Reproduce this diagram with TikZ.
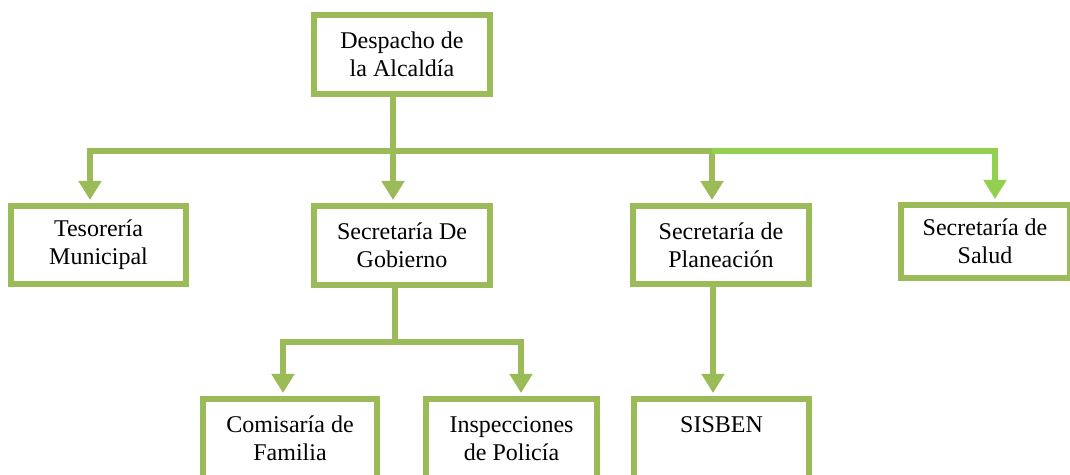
\documentclass[tikz,border=0pt]{standalone}
\usepackage{fontspec}
\setmainfont{Liberation Serif}
\usetikzlibrary{arrows.meta}
\definecolor{olivo}{HTML}{9BBB59}
\definecolor{verdeclaro}{HTML}{92D050}
\tikzset{
  caja/.style={draw=olivo,line width=3pt,fill=white,align=center,inner sep=0pt,
    font=\fontsize{12}{13.8}\selectfont},
  enlace/.style={draw=olivo,line width=2.75pt,shorten >=1.5pt},
  >={Triangle[width=11pt,length=9.5pt]}
}
\begin{document}
\begin{tikzpicture}[x=0.5pt,y=-0.5pt]
		\useasboundingbox (0,0) rectangle (1070,475);
		\node[caja,minimum width=88pt,minimum height=39.5pt](alc) at (402,54.5){Despacho de\\la Alcaldía};
		\node[caja,minimum width=87.5pt,minimum height=39pt](tes) at (98.5,245){Tesorería\\Municipal};
		\node[caja,minimum width=88pt,minimum height=39.5pt](gob) at (402,245.5){Secretaría De\\Gobierno};
		\node[caja,minimum width=88pt,minimum height=39pt](pla) at (721,245){Secretaría de\\Planeación};
		\node[caja,minimum width=84.5pt,minimum height=36.5pt](sal) at (985,241.5){Secretaría de\\Salud};
		\node[caja,minimum width=87pt,minimum height=39.5pt](com) at (290,438.5){Comisaría de\\Familia};
		\node[caja,minimum width=85.5pt,minimum height=39.5pt](ins) at (511.5,438.5){Inspecciones\\de Policía};
		\node[caja,minimum width=87.5pt,minimum height=39.5pt](sis) at (721.5,438.5){SISBEN\\\phantom{X}};
		\coordinate (hub) at (393,151);
		\coordinate (jtes) at (90,151);
		\coordinate (jpla) at (712,151);
		\coordinate (jsal) at (995,151);
		\coordinate (hubgob) at (395,342);
		\coordinate (jcom) at (283,342);
		\coordinate (jins) at (521,342);
		\coordinate (jsis) at (713,342);
		\draw[enlace](hub |- alc.south)--(hub);
		\draw[enlace,->](hub)--(jtes)--(jtes |- tes.north);
		\draw[enlace,->](hub)--(hub |- gob.north);
		\draw[enlace,->](hub)--(jpla)--(jpla |- pla.north);
		\draw[enlace,draw=verdeclaro,->](jpla)--(jsal)--(jsal |- sal.north);
		\draw[enlace](hubgob |- gob.south)--(hubgob);
		\draw[enlace,->](hubgob)--(jcom)--(jcom |- com.north);
		\draw[enlace,->](hubgob)--(jins)--(jins |- ins.north);
		\draw[enlace,->](jsis |- pla.south)--(jsis |- sis.north);
	    \end{tikzpicture}
\end{document}
